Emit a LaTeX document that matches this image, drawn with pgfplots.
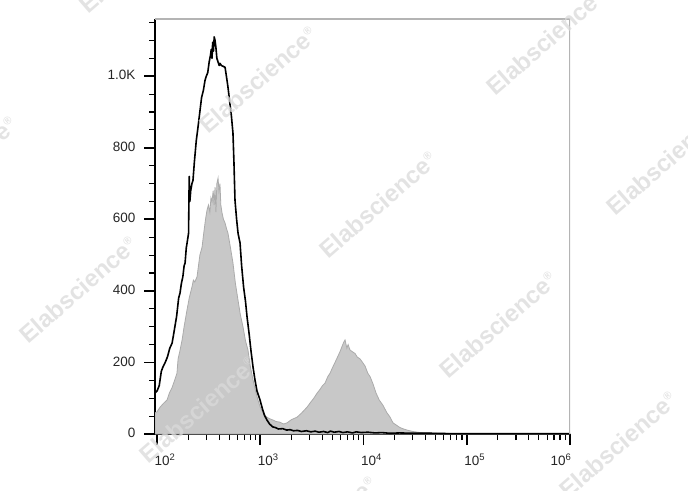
\documentclass[border=0pt]{standalone}
\usepackage{pgfplots}
\pgfplotsset{compat=1.18}
\usepackage{fontspec}
\setmainfont{Liberation Sans}
\definecolor{fillgray}{HTML}{C8C8C8}
\definecolor{linegray}{HTML}{ABABAB}
\definecolor{boxgray}{HTML}{B4B4B4}
\definecolor{wm}{HTML}{DADADA}
\begin{document}
\begin{tikzpicture}
\useasboundingbox (0pt,0pt) rectangle (688pt,490pt);
\begin{axis}[at={(155pt,56pt)}, anchor=south west, scale only axis,
  width=415pt, height=415pt,
  xmode=log, xmin=95.6, xmax=1000000, ymin=0, ymax=1160,
  axis x line*=bottom, axis y line*=left,
  axis line style={black, line width=1.4pt},
  xtick={100,1000,10000,100000,1000000},
  xticklabels={10\textsuperscript{2},10\textsuperscript{3},10\textsuperscript{4},10\textsuperscript{5},\hspace*{-34pt}10\textsuperscript{6}},
  minor xtick={200,300,400,500,600,700,800,900,2000,3000,4000,5000,6000,7000,8000,9000,20000,30000,40000,50000,60000,70000,80000,90000,200000,300000,400000,500000,600000,700000,800000,900000},
  ytick={0,200,400,600,800,1000},
  yticklabels={0,200,400,600,800,1.0K},
  minor ytick={50,100,150,250,300,350,450,500,550,650,700,750,850,900,950,1050,1100,1150},
  tick align=outside,
  major tick length=11pt, minor tick length=6pt,
  every major tick/.style={black, line width=1.8pt},
  every minor tick/.style={black, line width=1.1pt},
  tick label style={font=\fontsize{13.5}{15}\selectfont, text=black!85},
  xticklabel style={xshift=8pt, yshift=-5pt},
  yticklabel style={xshift=-5pt, yshift=1pt},
  /pgf/number format/assume math mode=true,
]
\addplot[fill=fillgray, draw=linegray, line width=0.8pt] coordinates {
(95.6,59) (100,62) (107,75) (115,85) (125,95) (132,115) (140,130) (148,150) (156,170) (160,210) (166,230) (175,263) (183,300) (195,346) (205,380) (218,411) (225,430) (232,425) (244,439) (252,470) (260,500) (273,522) (283,560) (295,600) (305,626) (315,640) (325,620) (333,660) (341,650) (350,680) (357,640) (365,690) (372,620) (380,700) (390,715) (398,680) (407,700) (415,640) (427,617) (440,600) (456,590) (470,575) (487,561) (515,520) (544,478) (575,420) (609,374) (640,335) (681,299) (720,260) (760,235) (800,190) (851,151) (900,120) (950,95) (1000,75) (1064,59) (1120,50) (1189,45) (1250,42) (1327,39) (1420,35) (1552,33) (1680,28) (1816,31) (2000,40) (2270,47) (2500,58) (2838,75) (3100,90) (3300,100) (3548,114) (3800,125) (4000,135) (4236,142) (4500,160) (4742,170) (5000,185) (5297,200) (5600,215) (5916,230) (6200,245) (6400,255) (6622,263) (6900,240) (7100,250) (7396,235) (7800,230) (8279,225) (8700,215) (9247,210) (9800,200) (10351,190) (11000,170) (11600,160) (12359,140) (13200,115) (14200,95) (15453,80) (16800,60) (18000,48) (19320,31) (21000,24) (22542,18) (24500,14) (26363,11) (30000,7) (35237,4) (45000,3) (54954,2) (100000,1) (1000000,1)
} \closedcycle;
\addplot[black, line width=1.6pt, line join=round] coordinates {
(95.6,115) (100,120) (105,135) (110,175) (114,187) (120,200) (126,215) (133,240) (140,254) (147,290) (155,330) (162,380) (167,394) (172,420) (178,440) (183,470) (187,478) (192,520) (197,540) (202,561) (205,720) (208,650) (212,680) (218,700) (223,709) (230,760) (240,820) (250,860) (261,905) (270,940) (281,960) (292,989) (300,1000) (310,1010) (320,1040) (330,1060) (335,1075) (341,1050) (346,1095) (352,1070) (358,1110) (365,1100) (372,1080) (380,1050) (390,1040) (400,1030) (407,1036) (420,1030) (435,1028) (456,1025) (470,1000) (487,969) (505,930) (525,890) (544,841) (556,760) (569,654) (590,600) (610,560) (637,534) (660,470) (690,410) (720,370) (745,327) (780,280) (815,230) (851,187) (890,150) (930,120) (995,95) (1050,70) (1100,52) (1161,39) (1230,28) (1318,20) (1400,18) (1500,14) (1650,15) (1800,11) (1950,12) (2100,9) (2300,10) (2500,7) (2800,9) (3100,6) (3400,8) (3700,5) (4100,7) (4500,4) (4786,8) (5200,5) (5800,7) (6300,4) (7000,6) (7800,3) (8500,6) (9500,4) (11000,5) (13000,3) (15000,4) (18000,2) (22387,3) (30000,2) (45000,2) (69183,1) (150000,1) (1000000,1)
};
\draw[boxgray, line width=1.2pt] (rel axis cs:0,1) -- (rel axis cs:1,1) -- (rel axis cs:1,0);
\end{axis}
\foreach \px/\py in {138/530, 258/410, 378/285, 498/165, 618/45, 545/448, 665/328, -42/320, 78/200, 198/80, 318/-40}
  \node[rotate=41, text=wm, opacity=0.75, font=\fontsize{24}{24}\selectfont\bfseries] at (\px pt,\py pt) {Elabscience\textsuperscript{\fontsize{11}{11}\selectfont ®}};
\end{tikzpicture}
\end{document}
